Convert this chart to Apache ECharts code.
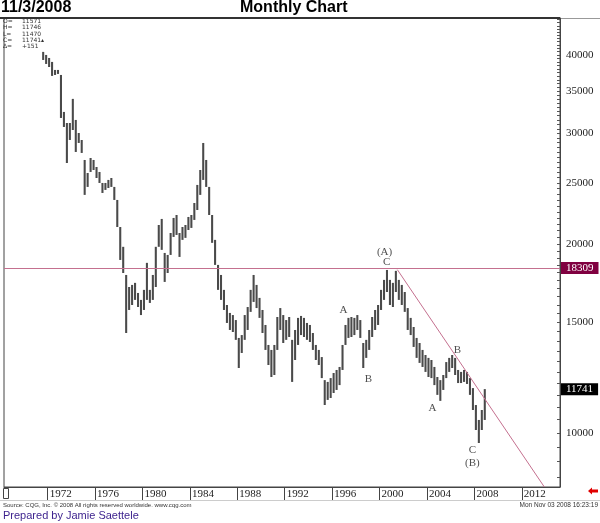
<!DOCTYPE html>
<html>
<head>
<meta charset="utf-8">
<title>Monthly Chart</title>
<script src="https://cdn.jsdelivr.net/npm/echarts@6/dist/echarts.min.js"></script>
<style>
  html, body { margin: 0; padding: 0; background: #fff; }
  #chart { width: 600px; height: 523px; }
</style>
</head>
<body>
<div id="chart"></div>
<script>
// quarterly high / low, first bar = 1971 Q3
var firstQuarter = 1971.5
var highs = [
  40440, 39990, 39550, 38980, 37850, 37850, 37160, 32450, 31160, 31160,
  34040, 31510, 30040, 29280, 27210, 25940, 27410, 27210, 26520, 26040,
  25010, 25010, 25290, 25470, 24650, 23500, 21280, 19790, 17850, 17080,
  17210, 17340, 16710, 16290, 16900, 18660, 16900, 17850, 19790, 21440,
  21920, 19350, 19210, 20820, 22000, 22240, 20820, 21280, 21440, 22080,
  22240, 23240, 24830, 26230, 28960, 27210, 24650, 22240, 20300, 18520,
  17850, 16900, 15990, 15530, 15410, 15130, 14170, 14320, 15410, 15870,
  16900, 17850, 17210, 16410, 15700, 14860, 13810, 13560, 13810, 15300,
  15810, 15410, 15130, 15300, 14070, 14590, 15250, 15360, 15250, 14970,
  14860, 14430, 13810, 13560, 13210, 12140, 12060, 12230, 12460, 12600,
  12740, 13810, 14860, 15250, 15300, 15250, 15410, 15130, 13910, 14070,
  14590, 15300, 15700, 15990, 16900, 17530, 18180, 17530, 17340, 18120,
  17530, 17210, 16770, 15810, 15250, 14750, 14170, 13910, 13560, 13310,
  13170, 13070, 12740, 12280, 12140, 12370, 12970, 13170, 13310, 13170,
  12600, 12510, 12600, 12510, 12230, 11790, 11080, 10490, 10880, 11746
]
var lows = [
  39260, 38690, 38260, 37030, 37160, 37300, 31740, 30710, 26910, 29280,
  30370, 28020, 28960, 27920, 23940, 24650, 26040, 26230, 25470, 25010,
  24110, 24380, 24550, 24650, 23500, 21280, 18860, 17980, 14430, 15700,
  15990, 16290, 15870, 15410, 15700, 16290, 16110, 16290, 17080, 19790,
  19570, 17400, 17980, 19210, 20520, 20670, 19070, 20300, 20450, 21050,
  21210, 21840, 22650, 23940, 25290, 24650, 22240, 20080, 18520, 16900,
  16290, 15700, 14970, 14590, 14480, 14070, 12690, 13410, 14070, 14590,
  15590, 16170, 15810, 15250, 14430, 13560, 12830, 12280, 12370, 13560,
  14590, 13910, 14070, 14220, 12060, 13070, 13810, 14320, 14220, 14070,
  13960, 13560, 13070, 12830, 12230, 11080, 11290, 11370, 11580, 11710,
  11920, 12600, 13810, 14170, 14220, 14320, 14590, 14170, 12690, 13170,
  13560, 14220, 14590, 14860, 15700, 16290, 16770, 15990, 15870, 16770,
  16290, 15990, 15590, 14590, 14320, 13710, 13170, 12930, 12740, 12510,
  12280, 12230, 11920, 11500, 11250, 11710, 12230, 12510, 12690, 12370,
  12010, 12010, 12060, 11970, 11500, 10880, 10110, 9640, 10110, 10490
]

var yearTicks = [1972, 1976, 1980, 1984, 1988, 1992, 1996, 2000, 2004, 2008, 2012]
var priceLabels = [10000, 15000, 20000, 25000, 30000, 35000, 40000]
var resistance = 18309
var lastClose = 11741
var trendLine = [[2001.5, 18200], [2013.9, 8204]]
var waves = [
  { name: '(A)', value: [2000.42, 19430] },
  { name: 'C', value: [2000.59, 18720] },
  { name: 'A', value: [1996.96, 15700] },
  { name: 'B', value: [1999.07, 12190] },
  { name: 'B', value: [2006.57, 13560] },
  { name: 'A', value: [2004.46, 10960] },
  { name: 'C', value: [2007.83, 9400] },
  { name: '(B)', value: [2007.83, 8960] }
]
var quoteKeys = ['O=', 'H=', 'L=', 'C=', '\u0394=']
var quoteVals = ['11571', '11746', '11470', '11741\u25b4', '+151']

var bars = highs.map(function (h, i) {
  return [firstQuarter + i * 0.25 + 0.125, lows[i], h]
})
var minorTicks = []
for (var v = 8500; v <= 45500; v += 500) minorTicks.push(v)

var serif = 'Liberation Serif'
var sans = 'Liberation Sans'

// one quarter = one vertical bar from low to high
function renderBar(params, api) {
  var t = api.value(0)
  var top = api.coord([t, api.value(2)])
  var bot = api.coord([t, api.value(1)])
  var w = (api.coord([t + 0.125, api.value(2)])[0] - api.coord([t - 0.125, api.value(2)])[0]) * 0.7
  return {
    type: 'rect',
    shape: { x: top[0] - w / 2, y: top[1], width: w, height: Math.max(1, bot[1] - top[1]) },
    style: { fill: '#4a4a4a' }
  }
}

var graphics = []
for (var k = 0; k < quoteKeys.length; k++) {
  graphics.push({ type: 'text', left: 3, top: 18.5 + k * 6.3, style: { text: quoteKeys[k], font: '6px "DejaVu Sans"', fill: '#333' } })
  graphics.push({ type: 'text', left: 22, top: 18.5 + k * 6.3, style: { text: quoteVals[k], font: '6px "DejaVu Sans"', fill: '#333' } })
}
graphics.push(
  { type: 'line', shape: { x1: 0, y1: 18, x2: 560, y2: 18 }, style: { stroke: '#333', lineWidth: 2 } },
  { type: 'line', shape: { x1: 560, y1: 18.5, x2: 600, y2: 18.5 }, style: { stroke: '#999', lineWidth: 1 } },
  { type: 'line', shape: { x1: 0, y1: 500.5, x2: 600, y2: 500.5 }, style: { stroke: '#ccc', lineWidth: 1 } },
  { type: 'rect', shape: { x: 3.5, y: 488.5, width: 5, height: 10 }, style: { stroke: '#444', fill: 'none', lineWidth: 1 } },
  { type: 'polygon', shape: { points: [[588, 491], [592, 487.5], [592, 489.5], [598, 489.5], [598, 492.5], [592, 492.5], [592, 494.5]] }, style: { fill: '#e00000' } },
  { type: 'text', left: 3, top: 502, style: { text: 'Source: CQG, Inc. \u00a9 2008 All rights reserved worldwide. www.cqg.com', font: '6px ' + sans, fill: '#333' } },
  { type: 'text', right: 2, top: 502, style: { text: 'Mon Nov 03 2008 16:23:19', font: '6.5px ' + sans, fill: '#333' } },
  { type: 'text', left: 3, top: 510, style: { text: 'Prepared by Jamie Saettele', font: '11px ' + sans, fill: '#3a1f8c' } }
)

var myChart = echarts.init(document.getElementById('chart'))
var option = {
  backgroundColor: '#fff',
  animation: false,
  title: [
    { text: '11/3/2008', left: 1, top: 0, padding: 0, textStyle: { fontFamily: sans, fontWeight: 'bold', fontSize: 16, color: '#000' } },
    { text: 'Monthly Chart', left: 240, top: 0, padding: 0, textStyle: { fontFamily: sans, fontWeight: 'bold', fontSize: 16, color: '#000' } }
  ],
  grid: {
    left: 4, right: 40, top: 18, bottom: 36,
    show: true, borderColor: '#444', borderWidth: 1,
    containLabel: false, outerBoundsMode: 'none'
  },
  xAxis: {
    type: 'value',
    min: 1968.32,
    max: 2015.22,
    splitLine: { show: false },
    axisLine: { show: true, lineStyle: { color: '#444', width: 1 } },
    axisTick: { show: true, customValues: yearTicks, length: 13, lineStyle: { color: '#444' } },
    axisLabel: {
      customValues: yearTicks,
      align: 'left',
      margin: 2,
      padding: [0, 0, 0, 2],
      fontFamily: serif,
      fontSize: 11,
      color: '#222',
      formatter: function (v) { return String(v) }
    }
  },
  yAxis: {
    type: 'log',
    position: 'right',
    min: 8204,
    max: 45790,
    splitLine: { show: false },
    axisLine: { show: true, lineStyle: { color: '#444', width: 1 } },
    axisTick: { show: true, inside: true, customValues: minorTicks, length: 3, lineStyle: { color: '#555' } },
    axisLabel: {
      customValues: priceLabels,
      margin: 6,
      fontFamily: serif,
      fontSize: 11,
      color: '#222',
      formatter: function (v) { return String(Math.round(v)) }
    }
  },
  series: [
    {
      type: 'custom',
      renderItem: renderBar,
      encode: { x: 0, y: [1, 2] },
      data: bars,
      silent: true,
      markLine: {
        silent: true,
        symbol: ['none', 'none'],
        data: [
          {
            yAxis: resistance,
            lineStyle: { color: '#c4708f', width: 1, type: 'solid' },
            label: { show: true, position: 'end', distance: 1, formatter: String(resistance), backgroundColor: '#800040', color: '#fff', fontFamily: serif, fontSize: 11, padding: [1, 5, 0, 5] }
          },
          {
            yAxis: lastClose,
            lineStyle: { color: 'rgba(0,0,0,0)', width: 0 },
            label: { show: true, position: 'end', distance: 1, formatter: String(lastClose), backgroundColor: '#000', color: '#fff', fontFamily: serif, fontSize: 11, padding: [1, 5, 0, 5] }
          }
        ]
      }
    },
    {
      type: 'line',
      data: trendLine,
      symbol: 'none',
      silent: true,
      lineStyle: { color: '#c4708f', width: 1 }
    },
    {
      type: 'scatter',
      data: waves,
      symbolSize: 1,
      silent: true,
      itemStyle: { color: 'rgba(0,0,0,0)' },
      label: { show: true, position: 'inside', formatter: '{b}', fontFamily: serif, fontSize: 11, color: '#222' }
    }
  ],
  graphic: graphics
}
myChart.setOption(option)
window.addEventListener('resize', function () {
  myChart.resize()
})
</script>
</body>
</html>
